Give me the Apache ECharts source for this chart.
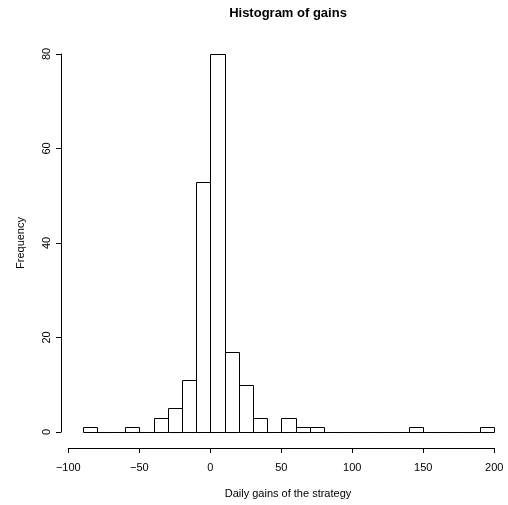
<!DOCTYPE html>
<html>
<head>
<meta charset="utf-8">
<script src="https://cdn.jsdelivr.net/npm/echarts@6/dist/echarts.min.js"></script>
<style>
html,body{margin:0;padding:0;background:#fff;}
#chart{width:508px;height:505px;}
</style>
</head>
<body>
<div id="chart"></div>
<script>
// Histogram bin edges (left and right) and counts
const binLeft  = [-90,-80,-70,-60,-50,-40,-30,-20,-10,0,10,20,30,40,50,60,70,80,90,100,110,120,130,140,150,160,170,180,190];
const binRight = [-80,-70,-60,-50,-40,-30,-20,-10,0,10,20,30,40,50,60,70,80,90,100,110,120,130,140,150,160,170,180,190,200];
const counts   = [1,0,0,1,0,3,5,11,53,80,17,10,3,0,3,1,1,0,0,0,0,0,0,1,0,0,0,0,1];
const xTicks = [-100, -50, 0, 50, 100, 150, 200];
const yTicks = [0, 20, 40, 60, 80];
const titleText = 'Histogram of gains';
const xLabel = 'Daily gains of the strategy';
const yLabel = 'Frequency';

const FONT = '"Liberation Sans", Arial, Helvetica, sans-serif';
const data = binLeft.map((l, i) => [l, binRight[i], counts[i]]);

const chart = echarts.init(document.getElementById('chart'), null, {renderer: 'canvas'});
const option = {
  backgroundColor: '#fff',
  animation: false,
  grid: {left: 68.3, right: 13.7, top: 54, bottom: 73, containLabel: false},
  xAxis: {
    type: 'value',
    min: xTicks[0], max: xTicks[xTicks.length - 1], interval: 50,
    offset: 16,
    splitLine: {show: false},
    axisLine: {show: true, onZero: false, lineStyle: {color: '#000', width: 1}},
    axisTick: {show: true, length: 5, lineStyle: {color: '#000'}},
    axisLabel: {
      color: '#000', fontFamily: FONT, fontSize: 11, margin: 14,
      formatter: v => String(v).replace('-', '\u2212')
    }
  },
  yAxis: {
    type: 'value',
    min: yTicks[0], max: yTicks[yTicks.length - 1], interval: 20,
    offset: 7.3,
    name: yLabel,
    nameLocation: 'middle',
    nameGap: 35,
    nameTextStyle: {color: '#000', fontFamily: FONT, fontSize: 11},
    splitLine: {show: false},
    axisLine: {show: true, onZero: false, lineStyle: {color: '#000', width: 1}},
    axisTick: {show: true, length: 5, lineStyle: {color: '#000'}},
    axisLabel: {color: '#000', fontFamily: FONT, fontSize: 11, margin: 9, rotate: 90}
  },
  graphic: [
    {type: 'text', x: 288, y: 13, style: {text: titleText, font: 'bold 13px ' + FONT, fill: '#000', textAlign: 'center', textVerticalAlign: 'middle'}},
    {type: 'text', x: 288, y: 494, style: {text: xLabel, font: '11px ' + FONT, fill: '#000', textAlign: 'center', textVerticalAlign: 'middle'}}
  ],
  series: [{
    type: 'custom',
    data: data,
    encode: {x: [0, 1], y: 2},
    renderItem: function (params, api) {
      const p0 = api.coord([api.value(0), 0]);
      const p1 = api.coord([api.value(1), api.value(2)]);
      const x0 = Math.round(p0[0]) + 0.5, x1 = Math.round(p1[0]) + 0.5;
      const yb = Math.round(p0[1]) + 0.5, yt = Math.round(p1[1]) + 0.5;
      return {
        type: 'rect',
        shape: {x: x0, y: yt, width: x1 - x0, height: yb - yt},
        style: {fill: '#fff', stroke: '#000', lineWidth: 1}
      };
    }
  }]
};
chart.setOption(option);
</script>
</body>
</html>
